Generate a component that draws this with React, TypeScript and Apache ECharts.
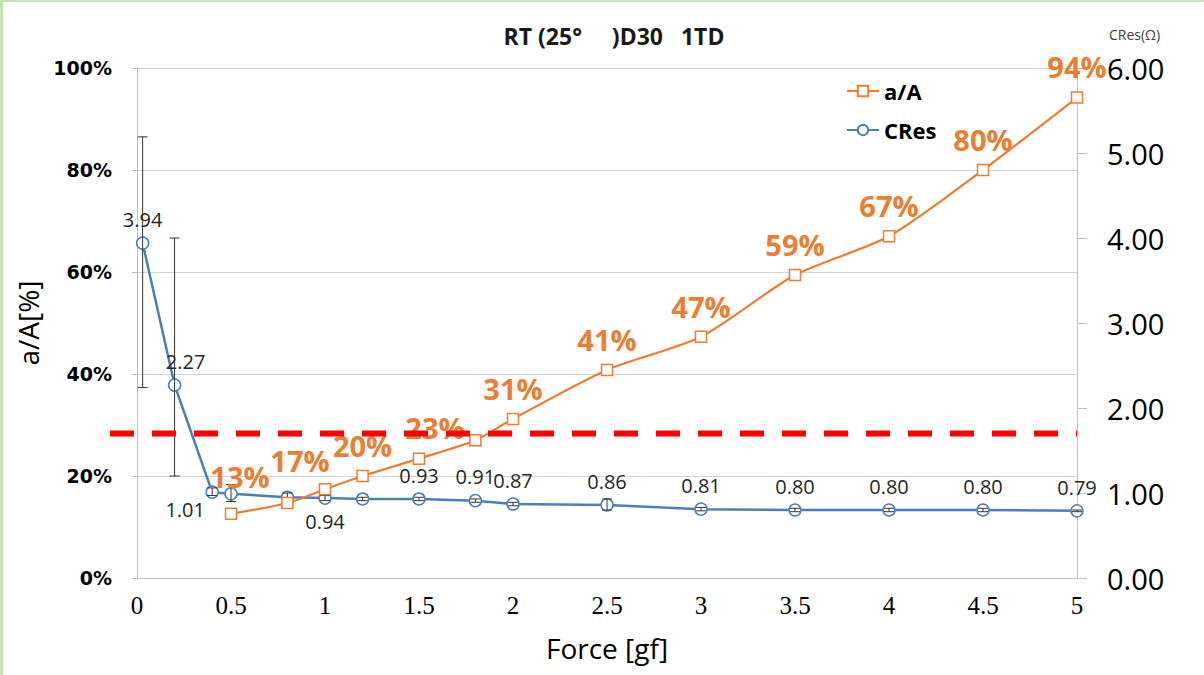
import React, { useEffect, useRef } from "react";
import * as echarts from "echarts";

const chartTitle = "RT (25°\u00a0\u00a0\u00a0\u00a0\u00a0)D30\u00a0\u00a0\u00a01TD";
const seriesNames = ["a/A", "CRes"];

// a/A contact-area ratio [%] against force [gf]
const areaForce = [0.5, 0.8, 1.0, 1.2, 1.5, 1.8, 2.0, 2.5, 3.0, 3.5, 4.0, 4.5, 5.0];
const areaRatio = [12.6, 14.7, 17.4, 20.0, 23.4, 27.0, 31.2, 40.8, 47.3, 59.4, 67.0, 80.0, 94.2];

// contact resistance [Ω] against force [gf], with error-bar limits
const resForce = [0.03, 0.2, 0.4, 0.5, 0.8, 1.0, 1.2, 1.5, 1.8, 2.0, 2.5, 3.0, 3.5, 4.0, 4.5, 5.0];
const resValue = [3.94, 2.27, 1.01, 0.99, 0.95, 0.94, 0.93, 0.93, 0.91, 0.87, 0.86, 0.81, 0.8, 0.8, 0.8, 0.79];
const resLow = [2.24, 1.2, 0.97, 0.9, 0.91, 0.91, 0.91, 0.91, 0.89, 0.85, 0.8, 0.79, 0.78, 0.78, 0.78, 0.78];
const resHigh = [5.19, 4.0, 1.06, 1.1, 1.0, 0.97, 0.95, 0.95, 0.93, 0.89, 0.93, 0.83, 0.82, 0.82, 0.82, 0.8];

// resistance limit drawn as a dashed red line
const resLimit = 1.7;

const ORANGE = "#ED7D31";
const BLUE = "#4A7EBB";
const SANS = "'Open Sans', 'Noto Sans', sans-serif";

// label tweaks for crowded points
const areaLabelTweak: Record<number, any> = {
  0: { offset: [9, -6] },
  1: { show: false },
  2: { offset: [-25, 2] },
  4: { offset: [16, 0] },
  5: { show: false },
};
const resLabelTweak: Record<number, any> = {
  1: { offset: [11, 0] },
  2: { position: "bottom", offset: [-27, -6] },
  3: { show: false },
  4: { show: false },
  5: { position: "bottom" },
  6: { show: false },
};

export default function App() {
  const ref = useRef<HTMLDivElement>(null);

  useEffect(() => {
    document.body.style.margin = "0";
    if (!ref.current) return;
    const chart = echarts.init(ref.current, undefined, { renderer: "svg" });

    const option: any = {
      animation: false,
      backgroundColor: "#ffffff",
      title: {
        text: chartTitle,
        left: 609,
        top: 19,
        textAlign: "center",
        textStyle: { fontFamily: SANS, fontWeight: "bold", fontSize: 23, color: "#1a1a1a" },
      },
      legend: {
        data: seriesNames,
        orient: "vertical",
        left: 841,
        top: 75,
        itemGap: 17,
        itemWidth: 32,
        itemHeight: 13,
        textStyle: { fontFamily: SANS, fontWeight: "bold", fontSize: 22, color: "#000" },
      },
      graphic: [
        { type: "rect", left: 0, top: 0, shape: { width: 3, height: 675 }, style: { fill: "#c6e4b8" } },
        { type: "rect", left: 0, top: 0, shape: { width: 1204, height: 2 }, style: { fill: "#c6e4b8" } },
        {
          type: "text",
          left: 1109,
          top: 27,
          style: { text: "CRes(Ω)", fontFamily: SANS, fontSize: 14, fill: "#404040" },
        },
      ],
      grid: { left: 137, right: 127, top: 68, bottom: 97 },
      xAxis: {
        type: "value",
        min: 0,
        max: 5,
        interval: 0.5,
        name: "Force [gf]",
        nameLocation: "middle",
        nameGap: 56,
        nameTextStyle: { fontFamily: SANS, fontSize: 28, color: "#000" },
        axisLine: { show: true, lineStyle: { color: "#bfbfbf", width: 1 } },
        axisTick: { show: false },
        splitLine: { show: false },
        axisLabel: { fontFamily: "'Liberation Serif', serif", fontSize: 25, color: "#000", margin: 15 },
      },
      yAxis: [
        {
          type: "value",
          min: 0,
          max: 100,
          interval: 20,
          name: "a/A[%]",
          nameLocation: "middle",
          nameGap: 72,
          nameRotate: 90,
          nameTextStyle: { fontFamily: SANS, fontSize: 28, color: "#000" },
          axisLine: { show: true, lineStyle: { color: "#bfbfbf", width: 1 } },
          axisTick: { show: true, length: 5, lineStyle: { color: "#bfbfbf" } },
          splitLine: { show: true, lineStyle: { color: "#d4d4d4", width: 1 } },
          axisLabel: {
            formatter: "{value}%",
            fontFamily: "'DejaVu Sans', sans-serif",
            fontWeight: "bold",
            fontSize: 19,
            color: "#000",
            margin: 25,
          },
        },
        {
          type: "value",
          min: 0,
          max: 6,
          interval: 1,
          position: "right",
          axisLine: { show: true, lineStyle: { color: "#bfbfbf", width: 1 } },
          axisTick: { show: true, length: 10, lineStyle: { color: "#bfbfbf" } },
          splitLine: { show: false },
          axisLabel: {
            formatter: (v: number) => v.toFixed(2),
            fontFamily: SANS,
            fontSize: 29,
            color: "#000",
            margin: 30,
          },
        },
      ],
      series: [
        {
          name: "a/A",
          type: "line",
          yAxisIndex: 0,
          z: 4,
          smooth: 0.25,
          symbol: "rect",
          symbolSize: 11,
          lineStyle: { color: ORANGE, width: 2.2 },
          itemStyle: { color: "#ffffff", borderColor: ORANGE, borderWidth: 1.5 },
          label: {
            show: true,
            position: "top",
            distance: 10,
            formatter: (p: any) => Math.round(p.value[1]) + "%",
            fontFamily: SANS,
            fontWeight: "bold",
            fontSize: 29,
            color: ORANGE,
          },
          data: areaForce.map((x, i) => ({
            value: [x, areaRatio[i]],
            label: areaLabelTweak[i],
          })),
        },
        {
          name: "CRes",
          type: "line",
          yAxisIndex: 1,
          z: 3,
          symbol: "circle",
          symbolSize: 12,
          lineStyle: { color: BLUE, width: 2.5 },
          itemStyle: { color: "#ffffff", borderColor: BLUE, borderWidth: 1.5 },
          label: {
            show: true,
            position: "top",
            distance: 7,
            formatter: (p: any) => p.value[1].toFixed(2),
            fontFamily: SANS,
            fontSize: 20,
            color: "#262626",
          },
          data: resForce.map((x, i) => ({
            value: [x, resValue[i]],
            label: resLabelTweak[i],
          })),
        },
        {
          name: "CRes error",
          type: "custom",
          yAxisIndex: 1,
          z: 3.5,
          silent: true,
          clip: false,
          encode: { x: 0, y: [1, 2] },
          data: resForce.map((x, i) => [x, resLow[i], resHigh[i]]),
          renderItem: (_params: any, api: any) => {
            const x = api.value(0);
            const lo = api.coord([x, api.value(1)]);
            const hi = api.coord([x, api.value(2)]);
            const cap = 5;
            const style = { stroke: "#333333", lineWidth: 1 };
            return {
              type: "group",
              children: [
                { type: "line", shape: { x1: lo[0], y1: lo[1], x2: hi[0], y2: hi[1] }, style },
                { type: "line", shape: { x1: lo[0] - cap, y1: lo[1], x2: lo[0] + cap, y2: lo[1] }, style },
                { type: "line", shape: { x1: hi[0] - cap, y1: hi[1], x2: hi[0] + cap, y2: hi[1] }, style },
              ],
            };
          },
        },
        {
          name: "limit",
          type: "custom",
          yAxisIndex: 1,
          z: 10,
          silent: true,
          clip: false,
          data: [[0, resLimit]],
          renderItem: (_params: any, api: any) => {
            const start = api.coord([0, api.value(1)]);
            const end = api.coord([5, api.value(1)]);
            return {
              type: "line",
              shape: { x1: start[0] - 27, y1: start[1], x2: end[0], y2: end[1] },
              style: { stroke: "#ff0000", lineWidth: 6, lineDash: [24, 18] },
            };
          },
        },
      ],
    };

    chart.setOption(option);
    return () => chart.dispose();
  }, []);

  return (
    <div
      ref={ref}
      style={{ position: "absolute", left: 0, top: 0, width: 1204, height: 675, background: "#fff" }}
    />
  );
}
